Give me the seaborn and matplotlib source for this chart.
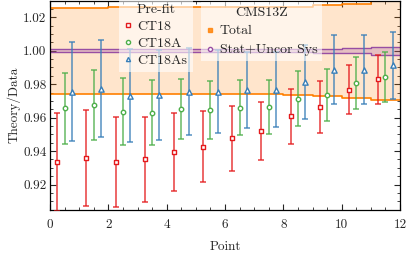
import numpy as np
import pandas as pd
import matplotlib
matplotlib.use("Agg")
import matplotlib.pyplot as plt
from matplotlib.lines import Line2D
from matplotlib.ticker import MultipleLocator
import seaborn as sns

# ---- data ----
points = list(range(12))
ct18 = [0.9334, 0.9358, 0.9334, 0.9350, 0.9394, 0.9426, 0.9478, 0.9522, 0.9608, 0.9664, 0.9768, 0.9828]
ct18_err = [0.0292, 0.0288, 0.0270, 0.0254, 0.0234, 0.0212, 0.0194, 0.0174, 0.0164, 0.0155, 0.0147, 0.0144]
ct18a = [0.9656, 0.9674, 0.9634, 0.9630, 0.9650, 0.9646, 0.9660, 0.9664, 0.9714, 0.9734, 0.9808, 0.9844]
ct18a_err = [0.0213, 0.0209, 0.0200, 0.0192, 0.0180, 0.0172, 0.0166, 0.0163, 0.0163, 0.0156, 0.0156, 0.0151]
ct18as = [0.9756, 0.9772, 0.9732, 0.9734, 0.9756, 0.9756, 0.9764, 0.9768, 0.9814, 0.9886, 0.9886, 0.9912]
ct18as_err = [0.0294, 0.0289, 0.0276, 0.0270, 0.0258, 0.0248, 0.0228, 0.0226, 0.0222, 0.0206, 0.0205, 0.0198]
total_err = [0.0256, 0.0256, 0.0260, 0.0260, 0.0260, 0.0260, 0.0260, 0.0260, 0.0264, 0.0272, 0.0280, 0.0296]
uncor_err = [0.0010, 0.0010, 0.0010, 0.0010, 0.0010, 0.0010, 0.0010, 0.0010, 0.0010, 0.0012, 0.0016, 0.0023]
series_names = ["CT18", "CT18A", "CT18As"]
x_ticks = [0, 2, 4, 6, 8, 10, 12]
y_ticks = [0.92, 0.94, 0.96, 0.98, 1.00, 1.02]

sns.set_theme(style="ticks")
plt.rcParams["font.family"] = ["cmr10", "DejaVu Serif"]
plt.rcParams["mathtext.fontset"] = "cm"
plt.rcParams["axes.formatter.use_mathtext"] = True
plt.rcParams["axes.unicode_minus"] = False

pal = sns.color_palette("Set1")
red, blue, green, purple, orange = pal[0], pal[1], pal[2], pal[3], pal[4]

fig = plt.figure(figsize=(4.07, 2.56), dpi=100)
ax = fig.add_axes([50/407, 1-209.7/256, 350/407, 209.2/256])

# bands
edges = np.arange(len(points) + 1)
tot = np.array(total_err)
unc = np.array(uncor_err)
tot_lo = np.append(1 - tot, 1 - tot[-1])
tot_hi = np.append(1 + tot, 1 + tot[-1])
unc_lo = np.append(1 - unc, 1 - unc[-1])
unc_hi = np.append(1 + unc, 1 + unc[-1])
ax.fill_between(edges, tot_lo, tot_hi, step="post", color=orange, alpha=0.2, lw=0, zorder=1)
ax.step(edges, tot_lo, where="post", color=orange, lw=1.2, zorder=2)
ax.step(edges, tot_hi, where="post", color=orange, lw=1.2, zorder=2)
ax.fill_between(edges, unc_lo, unc_hi, step="post", color=purple, alpha=0.25, lw=0, zorder=2)
ax.step(edges, unc_lo, where="post", color=purple, lw=1.0, zorder=2)
ax.step(edges, unc_hi, where="post", color=purple, lw=1.0, zorder=2)

# points
rows = []
for name, vals, errs, off in [("CT18", ct18, ct18_err, 0.25),
                              ("CT18A", ct18a, ct18a_err, 0.5),
                              ("CT18As", ct18as, ct18as_err, 0.75)]:
    for p, v, e in zip(points, vals, errs):
        rows.append({"Point": p + off, "ratio": v, "err": e, "PDF": name})
df = pd.DataFrame(rows)

colors = {"CT18": red, "CT18A": green, "CT18As": blue}
markers = {"CT18": "s", "CT18A": "o", "CT18As": "^"}
msize = {"CT18": 3.0, "CT18A": 3.2, "CT18As": 3.8}
for name in series_names:
    sub = df[df["PDF"] == name]
    ax.errorbar(sub["Point"], sub["ratio"], yerr=sub["err"], fmt="none",
                ecolor=colors[name], elinewidth=1.1, capsize=2.3, capthick=1.1,
                alpha=0.85, zorder=3)
    sns.scatterplot(data=sub, x="Point", y="ratio", marker=markers[name],
                    s=msize[name]**2, facecolor="white", edgecolor=colors[name],
                    linewidth=1.0, ax=ax, zorder=4, legend=False)

ax.set_xlim(0, 12)
ax.set_ylim(0.905, 1.03)
ax.set_xticks(x_ticks)
ax.set_yticks(y_ticks)
ax.set_xticklabels([str(t) for t in x_ticks])
ax.set_yticklabels([f"{t:.2f}" for t in y_ticks])
ax.xaxis.set_minor_locator(MultipleLocator(0.5))
ax.yaxis.set_minor_locator(MultipleLocator(0.005))
ax.tick_params(which="both", direction="in", top=True, right=True, labelsize=9.5)
ax.tick_params(axis="x", pad=6.5)
ax.tick_params(axis="y", pad=2.5)
ax.tick_params(which="major", length=4, width=0.8)
ax.tick_params(which="minor", length=2, width=0.6)
ax.set_xlabel("Point", fontsize=9.5, labelpad=7)
ax.set_ylabel("Theory/Data", fontsize=9.5, labelpad=2)
for s in ax.spines.values():
    s.set_linewidth(0.9)
    s.set_color("black")

h1 = [Line2D([], [], ls="none", marker=markers[n], color=colors[n], mfc="white",
             mec=colors[n], ms=3.0, mew=1.0) for n in series_names]
leg1 = ax.legend(h1, series_names, title="Pre-fit", loc="upper left",
                 bbox_to_anchor=(0.197, 1.005), fontsize=10, title_fontsize=10,
                 frameon=True, framealpha=0.6, edgecolor="none", fancybox=False,
                 handlelength=0.6, handletextpad=0.4, borderpad=0.35, labelspacing=0.3,
                 borderaxespad=0)
leg1.get_frame().set_linewidth(0)
ax.add_artist(leg1)
h2 = [Line2D([], [], ls="none", marker="s", color=orange, mfc=orange, mec=orange, ms=2.5, alpha=0.8),
      Line2D([], [], ls="none", marker="o", color=purple, mfc="white", mec=purple, ms=3.0, mew=1.0)]
leg2 = ax.legend(h2, ["Total", "Stat+Uncor Sys"], title="CMS13Z", loc="upper left",
                 bbox_to_anchor=(0.431, 0.995), fontsize=10, title_fontsize=10,
                 frameon=True, framealpha=0.6, edgecolor="none", fancybox=False,
                 handlelength=0.6, handletextpad=0.4, borderpad=0.35, labelspacing=0.45,
                 borderaxespad=0)
leg2.get_frame().set_linewidth(0)

fig.savefig("out.png", dpi=100)
